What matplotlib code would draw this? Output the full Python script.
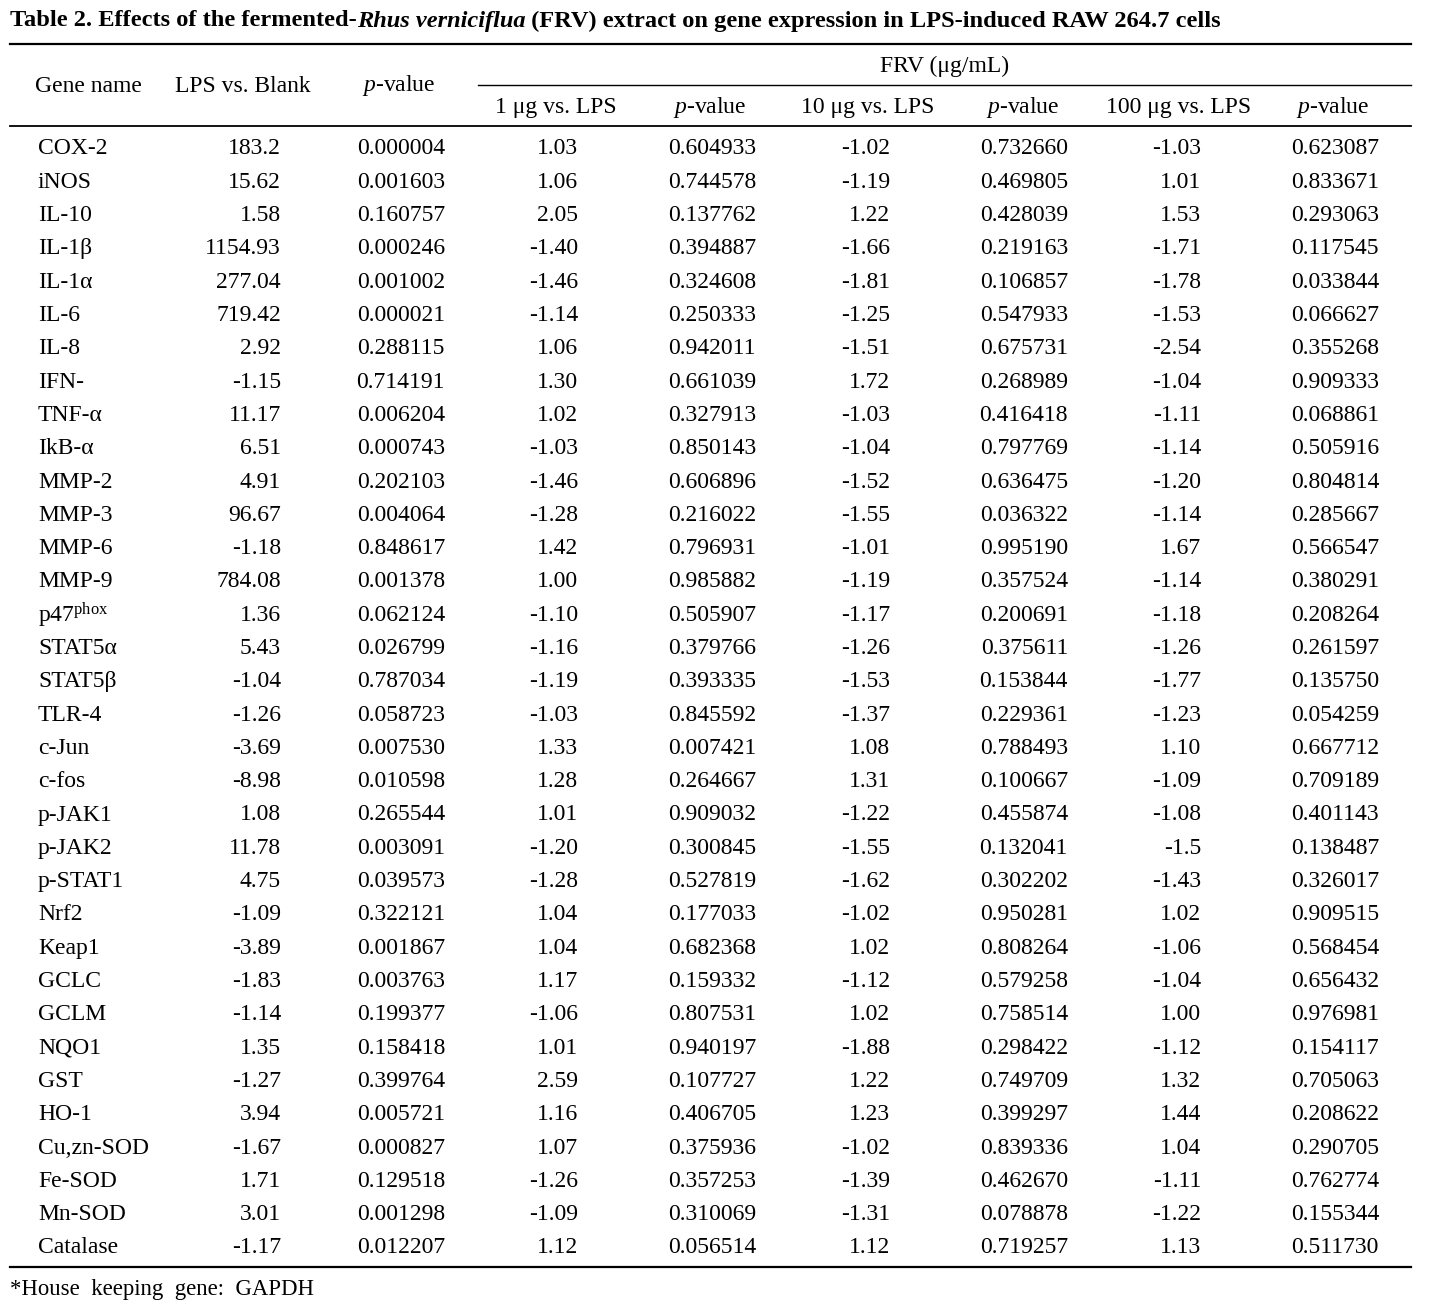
import matplotlib
matplotlib.use("Agg")
import matplotlib.pyplot as plt

plt.rcParams['font.family'] = ['Liberation Serif', 'DejaVu Serif']
plt.rcParams['mathtext.fontset'] = 'custom'
plt.rcParams['mathtext.rm'] = 'Liberation Serif'
plt.rcParams['mathtext.it'] = 'Liberation Serif:italic'
plt.rcParams['mathtext.bf'] = 'Liberation Serif:bold'

# ---- data ----
genes = ["COX-2", "iNOS", "IL-10", "IL-1β", "IL-1α", "IL-6", "IL-8", "IFN-", "TNF-α", "IkB-α",
         "MMP-2", "MMP-3", "MMP-6", "MMP-9", r"p47$^{\mathrm{phox}}$", "STAT5α", "STAT5β", "TLR-4",
         "c-Jun", "c-fos", "p-JAK1", "p-JAK2", "p-STAT1", "Nrf2", "Keap1", "GCLC", "GCLM",
         "NQO1", "GST", "HO-1", "Cu,zn-SOD", "Fe-SOD", "Mn-SOD", "Catalase"]

lps_blank = ["183.2", "15.62", "1.58", "1154.93", "277.04", "719.42", "2.92", "-1.15", "11.17",
             "6.51", "4.91", "96.67", "-1.18", "784.08", "1.36", "5.43", "-1.04", "-1.26", "-3.69",
             "-8.98", "1.08", "11.78", "4.75", "-1.09", "-3.89", "-1.83", "-1.14", "1.35", "-1.27",
             "3.94", "-1.67", "1.71", "3.01", "-1.17"]
p_lps = ["0.000004", "0.001603", "0.160757", "0.000246", "0.001002", "0.000021", "0.288115",
         "0.714191", "0.006204", "0.000743", "0.202103", "0.004064", "0.848617", "0.001378",
         "0.062124", "0.026799", "0.787034", "0.058723", "0.007530", "0.010598", "0.265544",
         "0.003091", "0.039573", "0.322121", "0.001867", "0.003763", "0.199377", "0.158418",
         "0.399764", "0.005721", "0.000827", "0.129518", "0.001298", "0.012207"]

frv1 = ["1.03", "1.06", "2.05", "-1.40", "-1.46", "-1.14", "1.06", "1.30", "1.02", "-1.03",
        "-1.46", "-1.28", "1.42", "1.00", "-1.10", "-1.16", "-1.19", "-1.03", "1.33", "1.28",
        "1.01", "-1.20", "-1.28", "1.04", "1.04", "1.17", "-1.06", "1.01", "2.59", "1.16",
        "1.07", "-1.26", "-1.09", "1.12"]
p1 = ["0.604933", "0.744578", "0.137762", "0.394887", "0.324608", "0.250333", "0.942011",
      "0.661039", "0.327913", "0.850143", "0.606896", "0.216022", "0.796931", "0.985882",
      "0.505907", "0.379766", "0.393335", "0.845592", "0.007421", "0.264667", "0.909032",
      "0.300845", "0.527819", "0.177033", "0.682368", "0.159332", "0.807531", "0.940197",
      "0.107727", "0.406705", "0.375936", "0.357253", "0.310069", "0.056514"]

frv10 = ["-1.02", "-1.19", "1.22", "-1.66", "-1.81", "-1.25", "-1.51", "1.72", "-1.03", "-1.04",
         "-1.52", "-1.55", "-1.01", "-1.19", "-1.17", "-1.26", "-1.53", "-1.37", "1.08", "1.31",
         "-1.22", "-1.55", "-1.62", "-1.02", "1.02", "-1.12", "1.02", "-1.88", "1.22", "1.23",
         "-1.02", "-1.39", "-1.31", "1.12"]
p10 = ["0.732660", "0.469805", "0.428039", "0.219163", "0.106857", "0.547933", "0.675731",
       "0.268989", "0.416418", "0.797769", "0.636475", "0.036322", "0.995190", "0.357524",
       "0.200691", "0.375611", "0.153844", "0.229361", "0.788493", "0.100667", "0.455874",
       "0.132041", "0.302202", "0.950281", "0.808264", "0.579258", "0.758514", "0.298422",
       "0.749709", "0.399297", "0.839336", "0.462670", "0.078878", "0.719257"]

frv100 = ["-1.03", "1.01", "1.53", "-1.71", "-1.78", "-1.53", "-2.54", "-1.04", "-1.11", "-1.14",
          "-1.20", "-1.14", "1.67", "-1.14", "-1.18", "-1.26", "-1.77", "-1.23", "1.10", "-1.09",
          "-1.08", "-1.5", "-1.43", "1.02", "-1.06", "-1.04", "1.00", "-1.12", "1.32", "1.44",
          "1.04", "-1.11", "-1.22", "1.13"]
p100 = ["0.623087", "0.833671", "0.293063", "0.117545", "0.033844", "0.066627", "0.355268",
        "0.909333", "0.068861", "0.505916", "0.804814", "0.285667", "0.566547", "0.380291",
        "0.208264", "0.261597", "0.135750", "0.054259", "0.667712", "0.709189", "0.401143",
        "0.138487", "0.326017", "0.909515", "0.568454", "0.656432", "0.976981", "0.154117",
        "0.705063", "0.208622", "0.290705", "0.762774", "0.155344", "0.511730"]

columns = [lps_blank, p_lps, frv1, p1, frv10, p10, frv100, p100]
headers = ["LPS vs. Blank", "$p$-value", "1 μg vs. LPS", "$p$-value",
           "10 μg vs. LPS", "$p$-value", "100 μg vs. LPS", "$p$-value"]

# ---- layout (pixels) ----
W, H = 1431, 1307
fs = 17
col_right = [281, 445, 578, 756, 890, 1068, 1201, 1379]
head_cx = [243, 399, 556, 710, 868, 1023, 1179, 1333]
row0, row_step = 149, 33.3

fig = plt.figure(figsize=(W / 100, H / 100), dpi=100)
ax = fig.add_axes([0, 0, 1, 1])
ax.set_xlim(0, W)
ax.set_ylim(H, 0)
ax.axis('off')

# title pieces (bold / bold italic)
renderer = fig.canvas.get_renderer()
x = 10
for txt, style in [("Table 2. Effects of the fermented-", "normal"),
                   ("Rhus verniciflua", "italic"),
                   (" (FRV) extract on gene expression in LPS-induced RAW 264.7 cells", "normal")]:
    t = ax.text(x, 21, txt, fontsize=17.6, fontweight='bold', style=style,
                ha='left', va='center')
    bb = t.get_window_extent(renderer)
    x += bb.width

# rules
ax.plot([10, 1411], [44, 44], color='black', lw=1.6)
ax.plot([478, 1411], [85, 85], color='black', lw=1.0)
ax.plot([10, 1411], [126, 126], color='black', lw=1.3)
ax.plot([10, 1411], [1267, 1267], color='black', lw=1.6)

# header
ax.text(88, 86, "Gene name", fontsize=fs, ha='center', va='center')
for i in range(2):
    ax.text(head_cx[i], 86, headers[i], fontsize=fs, ha='center', va='center')
ax.text(945, 66, "FRV (μg/mL)", fontsize=fs, ha='center', va='center')
for i in range(2, 8):
    ax.text(head_cx[i], 107, headers[i], fontsize=fs, ha='center', va='center')

# body
for r, g in enumerate(genes):
    y = row0 + r * row_step
    ax.text(38, y, g, fontsize=fs, ha='left', va='center')
    for c, vals in enumerate(columns):
        ax.text(col_right[c], y, vals[r], fontsize=fs, ha='right', va='center')

ax.text(10, 1289, "*House  keeping  gene:  GAPDH", fontsize=16.4, ha='left', va='center')

fig.savefig("out.png", dpi=100)
